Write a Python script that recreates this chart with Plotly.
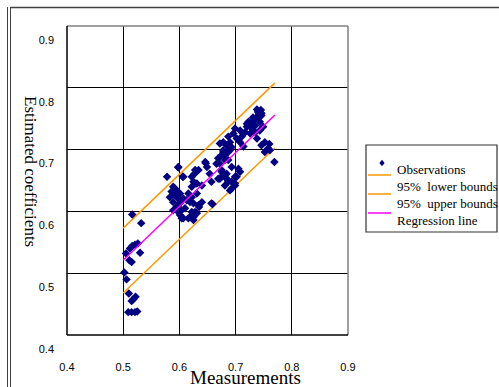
import plotly.graph_objects as go

# ---------------- data ----------------
obs_x = [
    0.516, 0.532, 0.505, 0.512, 0.516, 0.521, 0.526, 0.511, 0.515, 0.530,
    0.502, 0.506, 0.510, 0.518, 0.522, 0.515, 0.509, 0.515, 0.521, 0.525,
    0.598, 0.578, 0.606, 0.627, 0.634, 0.647, 0.654, 0.625, 0.631, 0.622,
    0.640, 0.589, 0.595, 0.586, 0.592, 0.601, 0.583, 0.598, 0.607, 0.589,
    0.601, 0.616, 0.622, 0.631, 0.613, 0.625, 0.634, 0.640, 0.589, 0.598,
    0.610, 0.622, 0.631, 0.604, 0.619, 0.625, 0.659,
    0.672, 0.681, 0.687, 0.693, 0.675, 0.684, 0.693, 0.699, 0.690, 0.678,
    0.740, 0.746, 0.738, 0.732, 0.743, 0.735, 0.723, 0.720, 0.729, 0.717,
    0.726, 0.735, 0.743, 0.749, 0.738, 0.752, 0.746, 0.758, 0.761, 0.769,
    0.711, 0.708, 0.699, 0.696, 0.687, 0.690, 0.684, 0.693, 0.678, 0.687,
    0.675, 0.669, 0.681, 0.675, 0.684, 0.672, 0.687, 0.699, 0.708,
    0.760, 0.752, 0.720, 0.708, 0.742, 0.746, 0.678, 0.672, 0.687, 0.690,
    0.646, 0.628, 0.649, 0.666, 0.675, 0.669, 0.687, 0.699, 0.705, 0.657,
    0.681, 0.702, 0.598, 0.607, 0.622, 0.628, 0.657, 0.693, 0.592, 0.595,
    0.604, 0.619, 0.628, 0.616, 0.607, 0.601, 0.625, 0.635,
    0.702, 0.714, 0.726, 0.731, 0.738, 0.745,
]
obs_y = [
    0.595, 0.581, 0.532, 0.540, 0.544, 0.546, 0.548, 0.521, 0.518, 0.533,
    0.501, 0.490, 0.467, 0.458, 0.462, 0.455, 0.437, 0.437, 0.437, 0.438,
    0.671, 0.656, 0.656, 0.661, 0.667, 0.678, 0.661, 0.648, 0.645, 0.640,
    0.642, 0.640, 0.634, 0.632, 0.626, 0.629, 0.623, 0.621, 0.621, 0.615,
    0.613, 0.629, 0.623, 0.629, 0.618, 0.613, 0.610, 0.615, 0.602, 0.599,
    0.605, 0.599, 0.597, 0.589, 0.591, 0.586, 0.612,
    0.677, 0.691, 0.683, 0.672, 0.656, 0.653, 0.648, 0.642, 0.634, 0.696,
    0.761, 0.755, 0.753, 0.747, 0.745, 0.739, 0.745, 0.737, 0.734, 0.728,
    0.726, 0.728, 0.731, 0.737, 0.718, 0.712, 0.707, 0.702, 0.699, 0.680,
    0.721, 0.712, 0.734, 0.726, 0.721, 0.712, 0.707, 0.704, 0.699, 0.696,
    0.691, 0.686, 0.683, 0.664, 0.661, 0.653, 0.648, 0.656, 0.664,
    0.709, 0.696, 0.742, 0.731, 0.758, 0.759, 0.712, 0.710, 0.707, 0.699,
    0.680, 0.667, 0.672, 0.677, 0.667, 0.653, 0.650, 0.645, 0.669, 0.648,
    0.642, 0.656, 0.672, 0.656, 0.656, 0.645, 0.613, 0.637, 0.637, 0.607,
    0.602, 0.615, 0.599, 0.589, 0.589, 0.594, 0.591, 0.607,
    0.718, 0.705, 0.742, 0.752, 0.765, 0.764,
]
fit_x = [0.50, 0.77]
regression_y = [0.521, 0.756]
lower_y = [0.468, 0.703]
upper_y = [0.573, 0.808]
x_ticks = [0.4, 0.5, 0.6, 0.7, 0.8, 0.9]
y_ticks = [0.4, 0.5, 0.6, 0.7, 0.8, 0.9]
legend_labels = ["Observations", "95%\u00a0 lower bounds", "95%\u00a0 upper bounds", "Regression line"]

NAVY = "#000080"
ORANGE = "#FF9900"
MAGENTA = "#FF00FF"

# ---------------- layout helpers (pixel -> paper) ----------------
W, H = 499, 387
L, R, T, B = 67, 151, 26, 52
PW, PH = W - L - R, H - T - B


def px(x):
    return (x - L) / PW


def py(y):
    return (H - B - y) / PH


fig = go.Figure()
fig.add_trace(go.Scatter(x=fit_x, y=upper_y, mode="lines",
                         line=dict(color=ORANGE, width=1.5), showlegend=False))
fig.add_trace(go.Scatter(x=fit_x, y=lower_y, mode="lines",
                         line=dict(color=ORANGE, width=1.5), showlegend=False))
fig.add_trace(go.Scatter(x=obs_x, y=obs_y, mode="markers",
                         marker=dict(symbol="diamond", size=6.5, color=NAVY,
                                     line=dict(width=0)), showlegend=False))
fig.add_trace(go.Scatter(x=fit_x, y=regression_y, mode="lines",
                         line=dict(color=MAGENTA, width=1.5), showlegend=False))

tickfont = dict(family="Liberation Sans, Arial, sans-serif", size=11, color="#000")
fig.update_xaxes(range=[0.4, 0.9], tickvals=x_ticks, ticktext=[str(v) for v in x_ticks],
                 showgrid=True, gridcolor="#000", gridwidth=1, zeroline=False,
                 showline=False, ticks="", tickfont=tickfont, ticklabelstandoff=24,
                 automargin=False)
fig.update_yaxes(range=[0.4, 0.9], tickvals=y_ticks, ticktext=[str(v) for v in y_ticks],
                 showgrid=True, gridcolor="#000", gridwidth=1, zeroline=False,
                 showline=False, ticks="", tickfont=tickfont, ticklabelstandoff=12,
                 ticklabelshift=14, automargin=False)

shapes = []
# plot area border
shapes.append(dict(type="line", xref="paper", yref="paper", x0=0, x1=1, y0=1, y1=1,
                   line=dict(color="#808080", width=1.5)))
shapes.append(dict(type="line", xref="paper", yref="paper", x0=1, x1=1, y0=0, y1=1,
                   line=dict(color="#808080", width=1.5)))
shapes.append(dict(type="line", xref="paper", yref="paper", x0=0, x1=1, y0=0, y1=0,
                   line=dict(color="#000", width=1.5)))
shapes.append(dict(type="line", xref="paper", yref="paper", x0=0, x1=0, y0=0, y1=1,
                   line=dict(color="#000", width=1.5)))
# outer frame
for fx in (7.5, 10.5):
    shapes.append(dict(type="line", xref="paper", yref="paper",
                       x0=px(fx), x1=px(fx), y0=py(7), y1=py(H + 5),
                       line=dict(color="#404040", width=1)))
shapes.append(dict(type="line", xref="paper", yref="paper",
                   x0=px(10.5), x1=px(W + 5), y0=py(7.5), y1=py(7.5),
                   line=dict(color="#404040", width=1.5)))
# legend box
shapes.append(dict(type="rect", xref="paper", yref="paper",
                   x0=px(366), x1=px(497), y0=py(145), y1=py(232),
                   line=dict(color="#333", width=1.2), fillcolor="white", layer="below"))
# legend symbols
dx, dy = 2.6 / PW, 3.2 / PH
cx, cy = px(382), py(163)
shapes.append(dict(type="path", xref="paper", yref="paper",
                   path=f"M {cx},{cy+dy} L {cx+dx},{cy} L {cx},{cy-dy} L {cx-dx},{cy} Z",
                   fillcolor=NAVY, line=dict(color=NAVY, width=0)))
for yy, col in ((175, ORANGE), (194, ORANGE), (213, MAGENTA)):
    shapes.append(dict(type="line", xref="paper", yref="paper",
                       x0=px(368), x1=px(391), y0=py(yy), y1=py(yy),
                       line=dict(color=col, width=1.5)))

serif = "Liberation Serif, Times New Roman, serif"
annotations = []
for lab, yy in zip(legend_labels, (169, 186, 203, 220)):
    annotations.append(dict(text=lab, xref="paper", yref="paper", x=px(395), y=py(yy),
                            xanchor="left", yanchor="middle", showarrow=False,
                            font=dict(family=serif, size=13, color="#000")))
annotations.append(dict(text="Estimated coefficients", xref="paper", yref="paper",
                        x=px(31), y=py(171), textangle=90, showarrow=False,
                        xanchor="center", yanchor="middle",
                        font=dict(family=serif, size=17, color="#000")))
annotations.append(dict(text="Measurements", xref="paper", yref="paper",
                        x=px(246), y=py(377), showarrow=False,
                        xanchor="center", yanchor="middle",
                        font=dict(family=serif, size=19, color="#000")))

fig.update_layout(width=W, height=H, margin=dict(l=L, r=R, t=T, b=B, pad=0, autoexpand=False),
                  paper_bgcolor="white", plot_bgcolor="white",
                  shapes=shapes, annotations=annotations, showlegend=False)

fig.write_html("out.html", config={"displayModeBar": False},
               post_script="document.body.style.margin='0';document.body.style.overflow='hidden';")
